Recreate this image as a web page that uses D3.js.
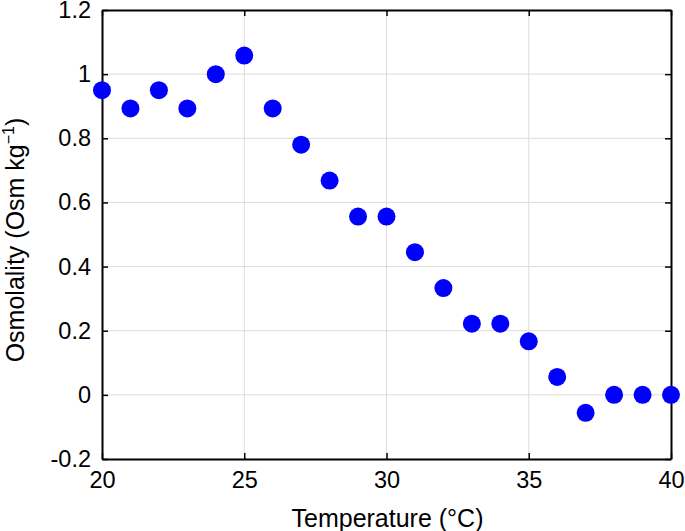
<!DOCTYPE html>
<html>
<head>
<meta charset="utf-8">
<script src="https://cdn.jsdelivr.net/npm/d3@7"></script>
<style>
  body { margin: 0; background: #fff; }
  svg text { font-family: "Liberation Sans", Arial, Helvetica, sans-serif; fill: #000; }
</style>
</head>
<body>
<div id="chart"></div>
<script>
// temperature (°C) and osmolality (Osm kg^-1)
const temperature = [20, 21, 22, 23, 24, 25, 26, 27, 28, 29, 30, 31, 32, 33, 34, 35, 36, 37, 38, 39, 40];
const osmolality = [0.95, 0.893, 0.95, 0.893, 1.0, 1.058, 0.893, 0.78, 0.668, 0.556, 0.556, 0.445, 0.333, 0.222, 0.222, 0.167, 0.056, -0.056, 0, 0, 0];
const xTicks = [20, 25, 30, 35, 40];
const yTicks = [-0.2, 0, 0.2, 0.4, 0.6, 0.8, 1, 1.2];

const width = 685, height = 531;
const margin = {top: 10, right: 14, bottom: 72, left: 102};

const svg = d3.select('#chart').append('svg')
    .attr('width', width)
    .attr('height', height);

const x = d3.scaleLinear([20, 40], [margin.left, width - margin.right]);
const y = d3.scaleLinear([-0.2, 1.2], [height - margin.bottom, margin.top]);

// grid
svg.append('g').selectAll('line.gx')
    .data(xTicks.slice(1, -1))
    .join('line')
    .attr('x1', d => x(d)).attr('x2', d => x(d))
    .attr('y1', y(-0.2)).attr('y2', y(1.2))
    .attr('stroke', '#dcdcdc').attr('stroke-width', 1);
svg.append('g').selectAll('line.gy')
    .data(yTicks.slice(1, -1))
    .join('line')
    .attr('y1', d => y(d)).attr('y2', d => y(d))
    .attr('x1', x(20)).attr('x2', x(40))
    .attr('stroke', '#dcdcdc').attr('stroke-width', 1);

// axes (ticks pointing inward)
const fmt = d => d3.format('~g')(d).replace('−', '-');
svg.append('g')
    .attr('transform', `translate(0,${y(-0.2)})`)
    .call(d3.axisBottom(x).tickValues(xTicks).tickSizeInner(-6).tickSizeOuter(0).tickPadding(12));
svg.append('g')
    .attr('transform', `translate(${x(20)},0)`)
    .call(d3.axisLeft(y).tickValues(yTicks).tickFormat(fmt).tickSizeInner(-6).tickSizeOuter(0).tickPadding(11));
// top / right ticks
svg.append('g')
    .attr('transform', `translate(0,${y(1.2)})`)
    .call(d3.axisTop(x).tickValues(xTicks).tickSizeInner(-6).tickSizeOuter(0).tickFormat(''));
svg.append('g')
    .attr('transform', `translate(${x(40)},0)`)
    .call(d3.axisRight(y).tickValues(yTicks).tickSizeInner(-6).tickSizeOuter(0).tickFormat(''));

svg.selectAll('.domain').attr('stroke', '#000').attr('stroke-width', 2);
svg.selectAll('.tick line').attr('stroke', '#000').attr('stroke-width', 1.5);
svg.selectAll('.tick text').attr('font-size', 23.5).attr('fill', '#000')
    .style('font-family', '"Liberation Sans", Arial, sans-serif');

// points
svg.append('g').selectAll('circle')
    .data(temperature.map((t, i) => [t, osmolality[i]]))
    .join('circle')
    .attr('cx', d => x(d[0]))
    .attr('cy', d => y(d[1]))
    .attr('r', 9)
    .attr('fill', '#0000ff');

// labels
svg.append('text')
    .attr('x', (x(20) + x(40)) / 2 + 1).attr('y', 527)
    .attr('text-anchor', 'middle')
    .attr('font-size', 25)
    .text('Temperature (°C)');

const yl = svg.append('text')
    .attr('transform', `translate(24,240)rotate(-90)`)
    .attr('text-anchor', 'middle')
    .attr('font-size', 25);
yl.append('tspan').text('Osmolality (Osm kg');
yl.append('tspan').attr('dy', -10).attr('font-size', 16).text('−1');
yl.append('tspan').attr('dy', 10).text(')');
</script>
</body>
</html>
